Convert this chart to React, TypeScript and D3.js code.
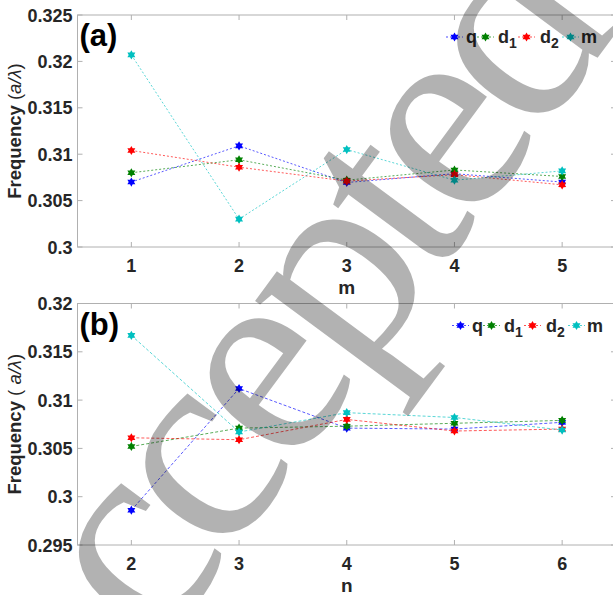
import * as d3 from "d3";
import React from "react";

const W = 613;
const H = 595;

// x categories for each panel
const mVals = [1, 2, 3, 4, 5];
const nVals = [2, 3, 4, 5, 6];

const seriesKeys = ["q", "d1", "d2", "m"];
const seriesColors = ["#0000ff", "#008000", "#ff0000", "#00c0c0"];

// panel (a): frequency vs m
const aQ = [0.307, 0.3109, 0.30695, 0.3079, 0.307];
const aD1 = [0.308, 0.3094, 0.3072, 0.3083, 0.3076];
const aD2 = [0.3104, 0.3086, 0.3071, 0.3078, 0.3067];
const aM = [0.3207, 0.303, 0.3105, 0.3072, 0.3082];

// panel (b): frequency vs n
const bQ = [0.2986, 0.3112, 0.3071, 0.307, 0.3077];
const bD1 = [0.3052, 0.3071, 0.3073, 0.3076, 0.3079];
const bD2 = [0.3061, 0.3059, 0.308, 0.3068, 0.307];
const bM = [0.3167, 0.3067, 0.3087, 0.3082, 0.3069];

const aYTicks = [0.3, 0.305, 0.31, 0.315, 0.32, 0.325];
const bYTicks = [0.295, 0.3, 0.305, 0.31, 0.315, 0.32];

const axisColor = "#b0b0b0";
const textColor = "#262626";
const font = "'Liberation Sans', Arial, sans-serif";

// six pointed star like matlab 'h'
const hexagram = (r: number) => {
  const pts = d3.range(12).map((i) => {
    const a = (i * Math.PI) / 6 - Math.PI / 2;
    const rr = i % 2 ? r * 0.58 : r;
    return [rr * Math.cos(a), rr * Math.sin(a)];
  });
  return "M" + pts.map((p) => p.join(",")).join("L") + "Z";
};
const starPath = hexagram(4.6);

const Legend = ({ x, y }: { x: number; y: number }) => {
  // offsets of each legend entry, relative to x
  const items = [
    { k: 0, lx: 0, tx: 20, label: "q", sub: "" },
    { k: 1, lx: 31, tx: 52, label: "d", sub: "1" },
    { k: 2, lx: 72, tx: 94, label: "d", sub: "2" },
    { k: 3, lx: 116, tx: 135, label: "m", sub: "" },
  ];
  return (
    <g transform={`translate(${x},${y})`}>
      {items.map((it) => (
        <g key={it.k}>
          <line
            x1={it.lx}
            x2={it.lx + 17}
            y1={0}
            y2={0}
            stroke={seriesColors[it.k]}
            strokeDasharray="2,2"
            strokeOpacity={0.7}
          />
          <path d={starPath} transform={`translate(${it.lx + 8.5},0)`} fill={seriesColors[it.k]} />
          <text x={it.tx} y={6} fontFamily={font} fontWeight="bold" fontSize={18} fill={textColor}>
            {it.label}
            {it.sub && (
              <tspan dy={5} fontSize={14}>
                {it.sub}
              </tspan>
            )}
          </text>
        </g>
      ))}
    </g>
  );
};

type PanelProps = {
  xs: number[];
  series: number[][];
  yTicks: number[];
  yDomain: [number, number];
  top: number;
  bottom: number;
  letter: string;
  xName: string;
  ylabelSpace: boolean;
  legendX: number;
  dash: string;
};

const Panel = (p: PanelProps) => {
  const left = 77.5;
  const right = 616;
  const x = d3.scaleLinear([p.xs[0] - 0.5, p.xs[p.xs.length - 1] + 0.5], [left, right]);
  const y = d3.scaleLinear(p.yDomain, [p.bottom, p.top]);
  const line = d3
    .line<number>()
    .x((d, i) => x(p.xs[i]))
    .y((d) => y(d));
  const midY = (p.top + p.bottom) / 2;
  return (
    <g>
      <rect x={left} y={p.top} width={right - left} height={p.bottom - p.top} fill="none" stroke={axisColor} />
      {p.xs.map((v) => (
        <g key={v}>
          <line x1={x(v)} x2={x(v)} y1={p.bottom} y2={p.bottom - 5} stroke={axisColor} />
          <line x1={x(v)} x2={x(v)} y1={p.top} y2={p.top + 5} stroke={axisColor} />
          <text x={x(v)} y={p.bottom + 25} textAnchor="middle" fontFamily={font} fontWeight="bold" fontSize={18} fill={textColor}>
            {v}
          </text>
        </g>
      ))}
      {p.yTicks.map((v) => (
        <g key={v}>
          <line x1={left} x2={left + 5} y1={y(v)} y2={y(v)} stroke={axisColor} />
          <line x1={right} x2={right - 5} y1={y(v)} y2={y(v)} stroke={axisColor} />
          <text x={left - 5} y={y(v) + 6.5} textAnchor="end" fontFamily={font} fontWeight="bold" fontSize={18} fill={textColor}>
            {String(v)}
          </text>
        </g>
      ))}
      <text x={x((p.xs[0] + p.xs[p.xs.length - 1]) / 2)} y={p.bottom + 47} textAnchor="middle" fontFamily={font} fontWeight="bold" fontSize={19} fill={textColor}>
        {p.xName}
      </text>
      <text
        transform={`translate(21,${midY}) rotate(-90)`}
        textAnchor="middle"
        fontFamily={font}
        fontSize={18.5}
        fill={textColor}
      >
        <tspan fontWeight="bold">Frequency </tspan>
        <tspan>{p.ylabelSpace ? "( " : "("}</tspan>
        <tspan fontStyle="italic">a/λ</tspan>
        <tspan>)</tspan>
      </text>
      <text x={left + 2} y={p.top + 31} fontFamily={font} fontWeight="bold" fontSize={31} fill="#000">
        {p.letter}
      </text>
      {p.series.map((s, k) => (
        <g key={k}>
          <path d={line(s) ?? ""} fill="none" stroke={seriesColors[k]} strokeWidth={1} strokeDasharray={p.dash} strokeOpacity={0.65} />
          {s.map((v, i) => (
            <path key={i} d={starPath} transform={`translate(${x(p.xs[i])},${y(v)})`} fill={seriesColors[k]} />
          ))}
        </g>
      ))}
      <Legend x={p.legendX} y={p.top + 22} />
    </g>
  );
};

export default function App() {
  return (
    <svg width={W} height={H} style={{ position: "absolute", left: 0, top: 0, background: "#fff" }}>
      <Panel
        xs={mVals}
        series={[aQ, aD1, aD2, aM]}
        yTicks={aYTicks}
        yDomain={[0.3, 0.325]}
        top={15}
        bottom={247}
        letter="(a)"
        xName="m"
        ylabelSpace={false}
        legendX={446}
        dash="2,2"
      />
      <Panel
        xs={nVals}
        series={[bQ, bD1, bD2, bM]}
        yTicks={bYTicks}
        yDomain={[0.295, 0.32]}
        top={303.5}
        bottom={545}
        letter="(b)"
        xName="n"
        ylabelSpace={true}
        legendX={452}
        dash="3,2"
      />
      <text
        transform="translate(44,806) rotate(-53.5)"
        fontFamily="'Liberation Serif', serif"
        fontSize={285}
        letterSpacing={-15}
        fill="#000"
        fillOpacity={0.3}
      >
        Accepted
      </text>
    </svg>
  );
}
